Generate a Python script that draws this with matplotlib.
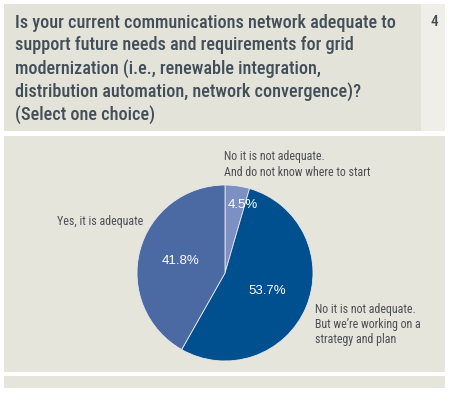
import matplotlib.pyplot as plt
from matplotlib.patches import Rectangle
from matplotlib import font_manager
import numpy as np

# data
labels = ['No it is not adequate.\nAnd do not know where to start',
          'No it is not adequate.\nBut we\u2019re working on a\nstrategy and plan',
          'Yes, it is adequate']
values = [4.5, 53.7, 41.8]
colors = ['#7d90c3', '#00508f', '#4b69a3']
pct_dist = [0.78, 0.52, 0.52]

title = ('Is your current communications network adequate to\n'
         'support future needs and requirements for grid\n'
         'modernization (i.e., renewable integration,\n'
         'distribution automation, network convergence)?\n'
         '(Select one choice)')

W, H = 450, 393
fig = plt.figure(figsize=(W / 100, H / 100), dpi=100)
fig.patch.set_facecolor('white')

names = {f.name for f in font_manager.fontManager.ttflist}
narrow = next(n for n in ['Roboto Condensed', 'Liberation Sans Narrow',
                          'Open Sans Condensed', 'Roboto', 'Liberation Sans']
              if n in names)


def px(x, y):
    # pixel (from top-left) -> figure fraction
    return x / W, 1 - y / H


def panel(x0, y0, x1, y1, color):
    fig.patches.append(Rectangle(px(x0, y1), (x1 - x0) / W, (y1 - y0) / H,
                                 transform=fig.transFigure, facecolor=color,
                                 edgecolor='none', zorder=-5))


panel(4, 4, 421, 131, '#e4e3da')
panel(421, 4, 445, 131, '#efeee8')
panel(4, 136, 445, 372, '#e6e5dc')
panel(4, 376, 445, 388, '#e6e5dc')

tc = '#434f58'
fig.text(*px(15, 14), title, ha='left', va='top', fontsize=13.1, color=tc,
         family=narrow, fontweight='medium', linespacing=1.3)
fig.text(*px(434, 22), '4', ha='center', va='center', fontsize=11, color=tc,
         family=narrow, fontweight='medium')

ax = fig.add_axes([137 / W, 32 / H, 176 / W, 176 / H])
ax.set_zorder(5)
wedges, _ = ax.pie(values, colors=colors, startangle=90, counterclock=False,
                   wedgeprops=dict(edgecolor='#e8e8f0', linewidth=0.6))
ax.set_xlim(-1, 1)
ax.set_ylim(-1, 1)
ax.set_aspect('equal')
ax.axis('off')

for w, v, d in zip(wedges, values, pct_dist):
    ang = np.deg2rad((w.theta1 + w.theta2) / 2)
    ax.text(d * np.cos(ang) + 0.09 * (v < 10), d * np.sin(ang), f'{v}%',
            ha='center', va='center', color='white', fontsize=9.5,
            family='Liberation Sans')

lc = '#4a4f55'
fig.text(*px(224, 150), labels[0], ha='left', va='top', fontsize=8.6,
         color=lc, family=narrow, linespacing=1.25)
fig.text(*px(315, 303), labels[1], ha='left', va='top', fontsize=8.6,
         color=lc, family=narrow, linespacing=1.22)
fig.text(*px(143, 221), labels[2], ha='right', va='center', fontsize=8.6,
         color=lc, family=narrow)

fig.savefig('out.png', dpi=100)
